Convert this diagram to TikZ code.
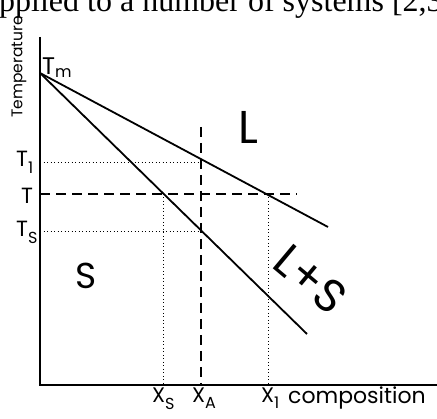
\documentclass[tikz,border=0pt]{standalone}
\usepackage{fontspec}
\setmainfont{Poppins}
\newfontfamily\serifx{Liberation Serif}
\tikzset{
  axisline/.style={line width=1.9pt, black},
  curve/.style={line width=1.8pt, black},
  dashline/.style={line width=2.3pt, black, dash pattern=on 10pt off 6pt},
  dotline/.style={line width=0.8pt, black, dash pattern=on 1pt off 2.5pt},
  lbl/.style={inner sep=0pt, font=\fontsize{22}{22}\selectfont},
  xlbl/.style={inner sep=0pt, font=\fontsize{21}{21}\selectfont},
  big/.style={inner sep=0pt, font=\fontsize{46}{46}\selectfont},
}
\newcommand\lsub[2]{\raisebox{-#2}{\fontsize{16}{16}\selectfont #1}}
\begin{document}
\begin{tikzpicture}[x=1pt,y=-1pt]
\useasboundingbox (0,0) rectangle (437,419);
\clip (0,0) rectangle (437,419);
\fill[white] (0,0) rectangle (437,419);
% clipped running text from the page above
\node[anchor=base west, inner sep=0pt, font=\serifx\fontsize{32}{32}\selectfont] (runtext) at (-1,12) {pplied to a number of systems [2,3};
% coordinates
\coordinate (O) at (40,385);
\coordinate (Ytop) at (40,37);
\coordinate (Xend) at (437,385);
\coordinate (M) at (40,73);
\coordinate (Lend) at (328,227);
\coordinate (Send) at (307,334);
\coordinate (T1a) at (40,162); \coordinate (T1b) at (201,162);
\coordinate (Ta) at (40,194); \coordinate (Tb) at (297,194);
\coordinate (Tsa) at (40,231); \coordinate (Tsb) at (201,231);
\coordinate (Vtop) at (201,127); \coordinate (Vbot) at (201,385);
\coordinate (XSt) at (163,194); \coordinate (XSb) at (163,385);
\coordinate (X1t) at (268,194); \coordinate (X1b) at (268,385);
% dotted guides
\draw[dotline] (T1a) -- (T1b);
\draw[dotline] (Tsa) -- (Tsb);
\draw[dotline] (XSt) -- (XSb);
\draw[dotline] (X1t) -- (X1b);
% dashed
\draw[dashline] (Ta) -- (Tb);
\draw[dashline] (Vtop) -- (Vbot);
% liquidus / solidus
\draw[curve] (M) -- (Lend);
\draw[curve] (M) -- (Send);
% axes
\draw[axisline] (Ytop) -- (O) -- (Xend);
% labels
\node[rotate=90, inner sep=0pt, font=\fontsize{15.5}{15.5}\selectfont] (ylab) at (19,67) {Temperature};
\node[anchor=base west, inner sep=0pt, font=\fontsize{24}{24}\selectfont] (tm) at (42,75) {T\lsub{m}{3pt}};
\node[anchor=base west, lbl] (t1) at (16,167) {T\lsub{1}{7pt}};
\node[anchor=base west, lbl] (t) at (21,204) {T};
\node[anchor=base west, lbl] (ts) at (16,237) {T\lsub{S}{7pt}};
\node[anchor=base west, xlbl] (xs) at (152,403) {X\lsub{S}{7pt}};
\node[anchor=base west, xlbl] (xa) at (192,403) {X\lsub{A}{6pt}};
\node[anchor=base west, xlbl] (x1) at (261,403) {X\lsub{1}{6pt}};
\node[anchor=base west, inner sep=0pt, font=\fontsize{22}{22}\selectfont] (comp) at (288,404) {composition};
\node[big] (L) at (248,127) {L};
\node[inner sep=0pt, font=\fontsize{36}{36}\selectfont] (S) at (86,276) {S};
\node[big, rotate=-40] (LS) at (311,279) {L+S};
\end{tikzpicture}
\end{document}
